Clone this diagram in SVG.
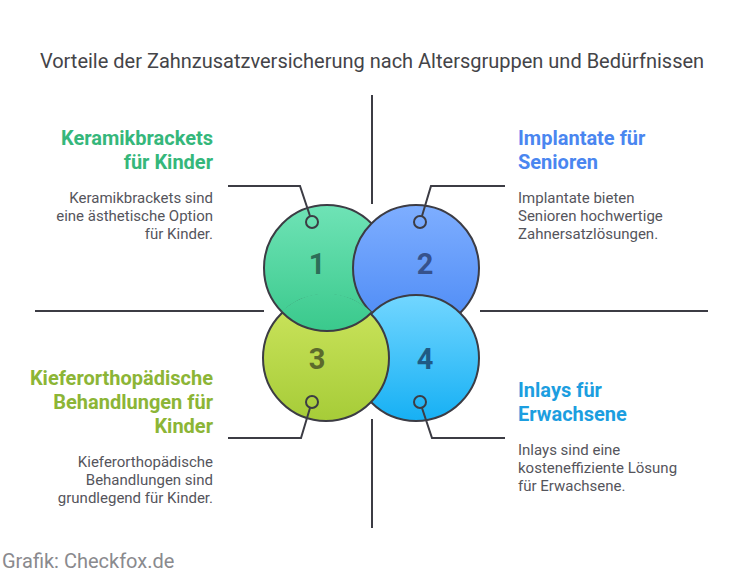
<svg xmlns="http://www.w3.org/2000/svg" width="732" height="576" viewBox="0 0 732 576">
<defs>
<linearGradient id="g1" x1="0" y1="0" x2="0" y2="1"><stop offset="0" stop-color="#6fe3b6"/><stop offset="1" stop-color="#3ac98c"/></linearGradient>
<linearGradient id="g2" x1="0" y1="0" x2="0" y2="1"><stop offset="0" stop-color="#7eaeff"/><stop offset="1" stop-color="#4c8af5"/></linearGradient>
<linearGradient id="g3" x1="0" y1="0" x2="0" y2="1"><stop offset="0" stop-color="#cde55e"/><stop offset="1" stop-color="#a6cc38"/></linearGradient>
<linearGradient id="g4" x1="0" y1="0" x2="0" y2="1"><stop offset="0" stop-color="#72d6ff"/><stop offset="1" stop-color="#16b0f4"/></linearGradient>
<clipPath id="in3"><circle cx="326" cy="358" r="64.5"/></clipPath>
<style>
.c{stroke:#3c3c44;stroke-width:2}
.ln{stroke:#3c3c44;stroke-width:2;fill:none}
.dot{fill:none;stroke:#3c3c44;stroke-width:2}
.num{font-family:Roboto,"Liberation Sans",sans-serif;font-weight:700;font-size:29px;text-anchor:middle}
.h{font-family:Roboto,"Liberation Sans",sans-serif;font-weight:700;font-size:20px}
.b{font-family:Roboto,"Liberation Sans",sans-serif;font-size:15px;fill:#55555c}
.r{text-anchor:end}
</style>
</defs>
<rect width="732" height="576" fill="#ffffff"/>
<text x="372" y="68" text-anchor="middle" font-family="Roboto,'Liberation Sans',sans-serif" font-size="20" fill="#444448">Vorteile der Zahnzusatzversicherung nach Altersgruppen und Bedürfnissen</text>
<g id="axes">
<line class="ln" x1="372" y1="95" x2="372" y2="204"/>
<line class="ln" x1="372" y1="419" x2="372" y2="528"/>
<line class="ln" x1="35" y1="311" x2="264" y2="311"/>
<line class="ln" x1="480" y1="311" x2="708" y2="311"/>
</g>
<g id="circles">
<circle id="c1" class="c" cx="327" cy="268" r="63" fill="url(#g1)"/>
<circle id="c2" class="c" cx="416" cy="268" r="63" fill="url(#g2)"/>
<circle id="c4" class="c" cx="416" cy="358" r="63" fill="url(#g4)"/>
<circle id="c3" class="c" cx="326" cy="358" r="63" fill="url(#g3)"/>
<g clip-path="url(#in3)"><circle class="c" cx="327" cy="268" r="63" fill="url(#g1)"/></g>
</g>
<g id="connectors">
<path class="ln" d="M228,186 L300,186 L310,216"/>
<path class="ln" d="M505,186 L431,186 L422,216"/>
<path class="ln" d="M228,438 L301,438 L310,408"/>
<path class="ln" d="M505,438 L432,438 L422,408"/>
<circle class="dot" cx="312" cy="222" r="6"/>
<circle class="dot" cx="420" cy="222" r="6"/>
<circle class="dot" cx="312" cy="402" r="6"/>
<circle class="dot" cx="420" cy="402" r="6"/>
</g>
<g id="n1">
<text class="num" x="317" y="274" fill="#2d6e58">1</text>
<text class="h r" x="213" y="145" fill="#35b77b">Keramikbrackets</text>
<text class="h r" x="213" y="169" fill="#35b77b">für Kinder</text>
<text class="b r" x="213" y="203">Keramikbrackets sind</text>
<text class="b r" x="213" y="221">eine ästhetische Option</text>
<text class="b r" x="213" y="239">für Kinder.</text>
</g>
<g id="n2">
<text class="num" x="425" y="274" fill="#36528c">2</text>
<text class="h" x="518" y="145" fill="#4a86f0">Implantate für</text>
<text class="h" x="518" y="169" fill="#4a86f0">Senioren</text>
<text class="b" x="518" y="203">Implantate bieten</text>
<text class="b" x="518" y="221">Senioren hochwertige</text>
<text class="b" x="518" y="239">Zahnersatzlösungen.</text>
</g>
<g id="n3">
<text class="num" x="317" y="369" fill="#5c6a2c">3</text>
<text class="h r" x="213" y="385" fill="#8cb536">Kieferorthopädische</text>
<text class="h r" x="213" y="409" fill="#8cb536">Behandlungen für</text>
<text class="h r" x="213" y="433" fill="#8cb536">Kinder</text>
<text class="b r" x="213" y="467">Kieferorthopädische</text>
<text class="b r" x="213" y="485">Behandlungen sind</text>
<text class="b r" x="213" y="503">grundlegend für Kinder.</text>
</g>
<g id="n4">
<text class="num" x="425" y="369" fill="#1f5a84">4</text>
<text class="h" x="518" y="397" fill="#1c9ee0">Inlays für</text>
<text class="h" x="518" y="421" fill="#1c9ee0">Erwachsene</text>
<text class="b" x="518" y="455">Inlays sind eine</text>
<text class="b" x="518" y="473">kosteneffiziente Lösung</text>
<text class="b" x="518" y="491">für Erwachsene.</text>
</g>
<text x="2" y="568" font-family="Roboto,'Liberation Sans',sans-serif" font-size="20" fill="#8a8a8e">Grafik: Checkfox.de</text>
</svg>
